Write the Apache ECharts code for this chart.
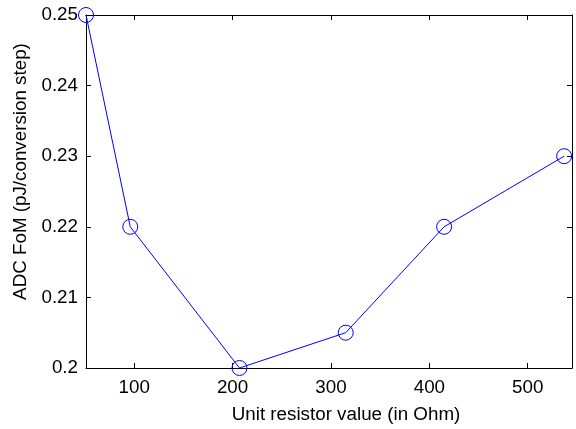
<!DOCTYPE html>
<html>
<head>
<meta charset="utf-8">
<script src="https://cdn.jsdelivr.net/npm/echarts@6/dist/echarts.min.js"></script>
<style>
  html, body { margin: 0; padding: 0; background: #fff; }
  #chart { width: 576px; height: 429px; }
</style>
</head>
<body>
<div id="chart"></div>
<script>
// Unit resistor value (Ohm) and the resulting ADC figure of merit
const resistorValues = [51, 96, 207, 315, 415, 537];
const fomValues = [0.25, 0.22, 0.2, 0.205, 0.22, 0.23];
const xTickValues = [100, 200, 300, 400, 500];
const xRange = [51, 545];
const yRange = [0.2, 0.25];
const yStep = 0.01;

const FONT = 'Liberation Sans, Arial, sans-serif';
const FONT_SIZE = 18.8;
const points = resistorValues.map((x, i) => [x, fomValues[i]]);

const boxAxisLine = { show: true, lineStyle: { color: '#000', width: 1 } };
const innerTick = { show: true, inside: true, length: 5, lineStyle: { color: '#000', width: 1 } };
const textStyle = { fontFamily: FONT, fontSize: FONT_SIZE, color: '#000' };

const chart = echarts.init(document.getElementById('chart'), null, { renderer: 'canvas' });
chart.setOption({
  backgroundColor: '#fff',
  animation: false,
  grid: { left: 86, right: 4, top: 15, bottom: 61 },
  xAxis: [
    {
      type: 'value',
      min: xRange[0],
      max: xRange[1],
      name: 'Unit resistor value (in Ohm)',
      nameLocation: 'middle',
      nameGap: 37,
      // label sits a little right of the axis centre
      nameTextStyle: Object.assign({ padding: [0, 0, 0, 34] }, textStyle),
      axisLine: boxAxisLine,
      axisTick: Object.assign({ customValues: xTickValues }, innerTick),
      axisLabel: Object.assign({ customValues: xTickValues, margin: 10 }, textStyle),
      splitLine: { show: false }
    },
    {
      type: 'value',
      position: 'top',
      min: xRange[0],
      max: xRange[1],
      axisLine: boxAxisLine,
      axisTick: Object.assign({ customValues: xTickValues }, innerTick),
      axisLabel: { show: false },
      splitLine: { show: false }
    }
  ],
  yAxis: [
    {
      type: 'value',
      min: yRange[0],
      max: yRange[1],
      interval: yStep,
      name: 'ADC FoM (pJ/conversion step)',
      nameLocation: 'middle',
      nameGap: 56,
      // label sits a little above the axis centre
      nameTextStyle: Object.assign({ padding: [0, 0, 0, 40] }, textStyle),
      axisLine: boxAxisLine,
      axisTick: innerTick,
      axisLabel: Object.assign({ margin: 8 }, textStyle),
      splitLine: { show: false }
    },
    {
      type: 'value',
      position: 'right',
      min: yRange[0],
      max: yRange[1],
      interval: yStep,
      axisLine: boxAxisLine,
      axisTick: innerTick,
      axisLabel: { show: false },
      splitLine: { show: false }
    }
  ],
  series: [
    {
      type: 'line',
      data: points,
      xAxisIndex: 0,
      yAxisIndex: 0,
      clip: false,
      symbol: 'circle',
      symbolSize: 15,
      showAllSymbol: true,
      lineStyle: { color: '#0000ff', width: 1 },
      itemStyle: { color: 'rgba(0,0,0,0)', borderColor: '#0000ff', borderWidth: 1 },
      emphasis: { disabled: true }
    }
  ]
});
</script>
</body>
</html>
